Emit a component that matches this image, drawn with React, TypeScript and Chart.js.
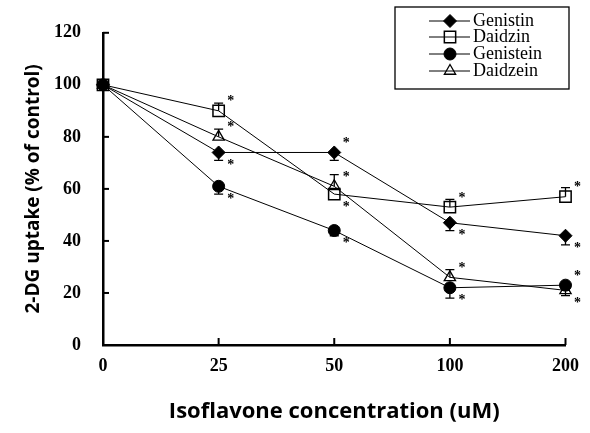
import React, { useEffect, useRef } from 'react';
import { Chart, registerables } from 'chart.js';
import { drawPoint } from 'chart.js/helpers';

Chart.register(...registerables);

// ---- data ----
const concentrations = ['0', '25', '50', '100', '200'];
const yMin = 0;
const yMax = 120;
const yStep = 20;

const seriesNames = ['Genistin', 'Daidzin', 'Genistein', 'Daidzein'];

const genistin = [100, 74, 74, 47, 42];
const genistinErr = [0, 3, 3, 3, 3.5];
const genistinErrDir = [0, -1, -1, -1, -1];
const genistinSig = [0, -1, 1, -1, -1];

const daidzin = [100, 90, 58, 53, 57];
const daidzinErr = [0, 3, 0, 3, 3.5];
const daidzinErrDir = [0, 1, 1, 1, 1];
const daidzinSig = [0, 1, -1, 1, 1];

const genistein = [100, 61, 44, 22, 23];
const genisteinErr = [0, 3, 2, 4, 2];
const genisteinErrDir = [0, -1, -1, -1, -1];
const genisteinSig = [0, -1, -1, -1, 1];

const daidzein = [100, 80, 61, 26, 21];
const daidzeinErr = [0, 3, 4.5, 3, 2];
const daidzeinErrDir = [0, 1, 1, 1, -1];
const daidzeinSig = [0, 1, 1, 1, -1];

const allErr = [genistinErr, daidzinErr, genisteinErr, daidzeinErr];
const allErrDir = [genistinErrDir, daidzinErrDir, genisteinErrDir, daidzeinErrDir];
const allSig = [genistinSig, daidzinSig, genisteinSig, daidzeinSig];

// ---- styles ----
const markerStyles = [
  { pointStyle: 'rectRot', radius: 6.5, fill: '#000', borderWidth: 1 },
  { pointStyle: 'rect', radius: 8, fill: 'rgba(0,0,0,0)', borderWidth: 1.5 },
  { pointStyle: 'circle', radius: 6, fill: '#000', borderWidth: 1 },
  { pointStyle: 'triangle', radius: 6.5, fill: 'rgba(0,0,0,0)', borderWidth: 1.3 },
];

const serif = "'Liberation Serif', 'Times New Roman', serif";
const sans = "'Open Sans', 'DejaVu Sans', sans-serif";

const inwardTicks = {
  id: 'inwardTicks',
  afterDraw(chart: any) {
    const { ctx, chartArea } = chart;
    const xs = chart.scales.x;
    const ys = chart.scales.y;
    ctx.save();
    ctx.strokeStyle = '#000';
    ctx.lineWidth = 2;
    for (let v = yMin + yStep; v <= yMax; v += yStep) {
      const y = ys.getPixelForValue(v);
      ctx.beginPath();
      ctx.moveTo(chartArea.left, y);
      ctx.lineTo(chartArea.left + 6, y);
      ctx.stroke();
    }
    for (let i = 1; i < concentrations.length; i++) {
      const x = xs.getPixelForValue(i);
      ctx.beginPath();
      ctx.moveTo(x, chartArea.bottom);
      ctx.lineTo(x, chartArea.bottom - 7);
      ctx.stroke();
    }
    ctx.restore();
  },
};

const errorBars = {
  id: 'errorBars',
  afterDatasetsDraw(chart: any) {
    const { ctx } = chart;
    const ys = chart.scales.y;
    ctx.save();
    ctx.strokeStyle = '#000';
    ctx.fillStyle = '#000';
    ctx.lineWidth = 1.3;
    chart.data.datasets.forEach((ds: any, i: number) => {
      const meta = chart.getDatasetMeta(i);
      meta.data.forEach((pt: any, j: number) => {
        const err = allErr[i][j];
        const dir = allErrDir[i][j];
        if (err > 0 && dir !== 0) {
          const yEnd = ys.getPixelForValue(ds.data[j] + dir * err);
          ctx.beginPath();
          ctx.moveTo(pt.x, pt.y);
          ctx.lineTo(pt.x, yEnd);
          ctx.moveTo(pt.x - 4.5, yEnd);
          ctx.lineTo(pt.x + 4.5, yEnd);
          ctx.stroke();
        }
        const sig = allSig[i][j];
        if (sig !== 0) {
          ctx.font = `bold 14px ${serif}`;
          ctx.textAlign = 'center';
          ctx.textBaseline = 'middle';
          ctx.fillText('*', pt.x + 12, pt.y + (sig > 0 ? -9 : 13));
        }
      });
    });
    ctx.restore();
  },
};

const boxLegend = {
  id: 'boxLegend',
  afterDraw(chart: any) {
    const { ctx } = chart;
    const left = 395;
    const top = 7;
    const right = 569;
    const bottom = 89;
    ctx.save();
    ctx.strokeStyle = '#000';
    ctx.lineWidth = 1.3;
    ctx.strokeRect(left, top, right - left, bottom - top);
    const rowY = [21, 37, 54, 71];
    seriesNames.forEach((name, i) => {
      const y = rowY[i];
      ctx.strokeStyle = '#000';
      ctx.lineWidth = 1;
      ctx.beginPath();
      ctx.moveTo(429, y);
      ctx.lineTo(470, y);
      ctx.stroke();
      const m = markerStyles[i];
      ctx.fillStyle = m.fill;
      ctx.strokeStyle = '#000';
      ctx.lineWidth = m.borderWidth;
      drawPoint(ctx, { pointStyle: m.pointStyle, radius: m.radius, borderWidth: m.borderWidth, rotation: 0 } as any, 450, y);
      ctx.fillStyle = '#000';
      ctx.font = `18px ${serif}`;
      ctx.textAlign = 'left';
      ctx.textBaseline = 'middle';
      ctx.fillText(name, 473, y);
    });
    ctx.restore();
  },
};

export default function App() {
  const canvasRef = useRef<HTMLCanvasElement | null>(null);

  useEffect(() => {
    if (!canvasRef.current) return;
    const seriesData = [genistin, daidzin, genistein, daidzein];
    const chart = new Chart(canvasRef.current, {
      type: 'line',
      data: {
        labels: concentrations,
        datasets: seriesData.map((d, i) => ({
          label: seriesNames[i],
          data: d,
          borderColor: '#000',
          borderWidth: 1,
          tension: 0,
          fill: false,
          pointStyle: markerStyles[i].pointStyle as any,
          pointRadius: markerStyles[i].radius,
          pointHoverRadius: markerStyles[i].radius,
          pointBackgroundColor: markerStyles[i].fill,
          pointBorderColor: '#000',
          pointBorderWidth: markerStyles[i].borderWidth,
          clip: false as any,
        })),
      },
      options: {
        animation: false,
        responsive: true,
        maintainAspectRatio: false,
        layout: { padding: { top: 22, right: 21, left: 0, bottom: 0 } },
        plugins: {
          legend: { display: false },
          tooltip: { enabled: false },
        },
        scales: {
          x: {
            type: 'category',
            offset: false,
            grid: { display: false, drawTicks: false },
            border: { display: true, color: '#000', width: 2.5 },
            ticks: {
              color: '#000',
              font: { family: serif, size: 18, weight: 'bold' },
              padding: 11,
              maxRotation: 0,
            },
            title: {
              display: true,
              text: 'Isoflavone concentration (uM)',
              color: '#000',
              font: { family: sans, size: 22, weight: 'bold' },
              padding: { top: 0, bottom: 8 },
            },
            afterFit: (s: any) => { s.height = 88; },
          },
          y: {
            type: 'linear',
            min: yMin,
            max: yMax,
            grid: { display: false, drawTicks: false },
            border: { display: true, color: '#000', width: 2.5 },
            ticks: {
              stepSize: yStep,
              color: '#000',
              font: { family: serif, size: 18, weight: 'bold' },
              padding: 22,
            },
            title: {
              display: true,
              text: '2-DG uptake (% of control)',
              color: '#000',
              font: { family: sans, size: 19, weight: 'bold' },
              padding: { top: 22, bottom: 0 },
            },
            afterFit: (s: any) => { s.width = 103; },
          },
        },
      },
      plugins: [inwardTicks, errorBars, boxLegend],
    });
    return () => chart.destroy();
  }, []);

  return (
    <div style={{ position: 'fixed', left: 0, top: 0, width: 590, height: 433, background: '#fff' }}>
      <canvas ref={canvasRef} />
    </div>
  );
}
